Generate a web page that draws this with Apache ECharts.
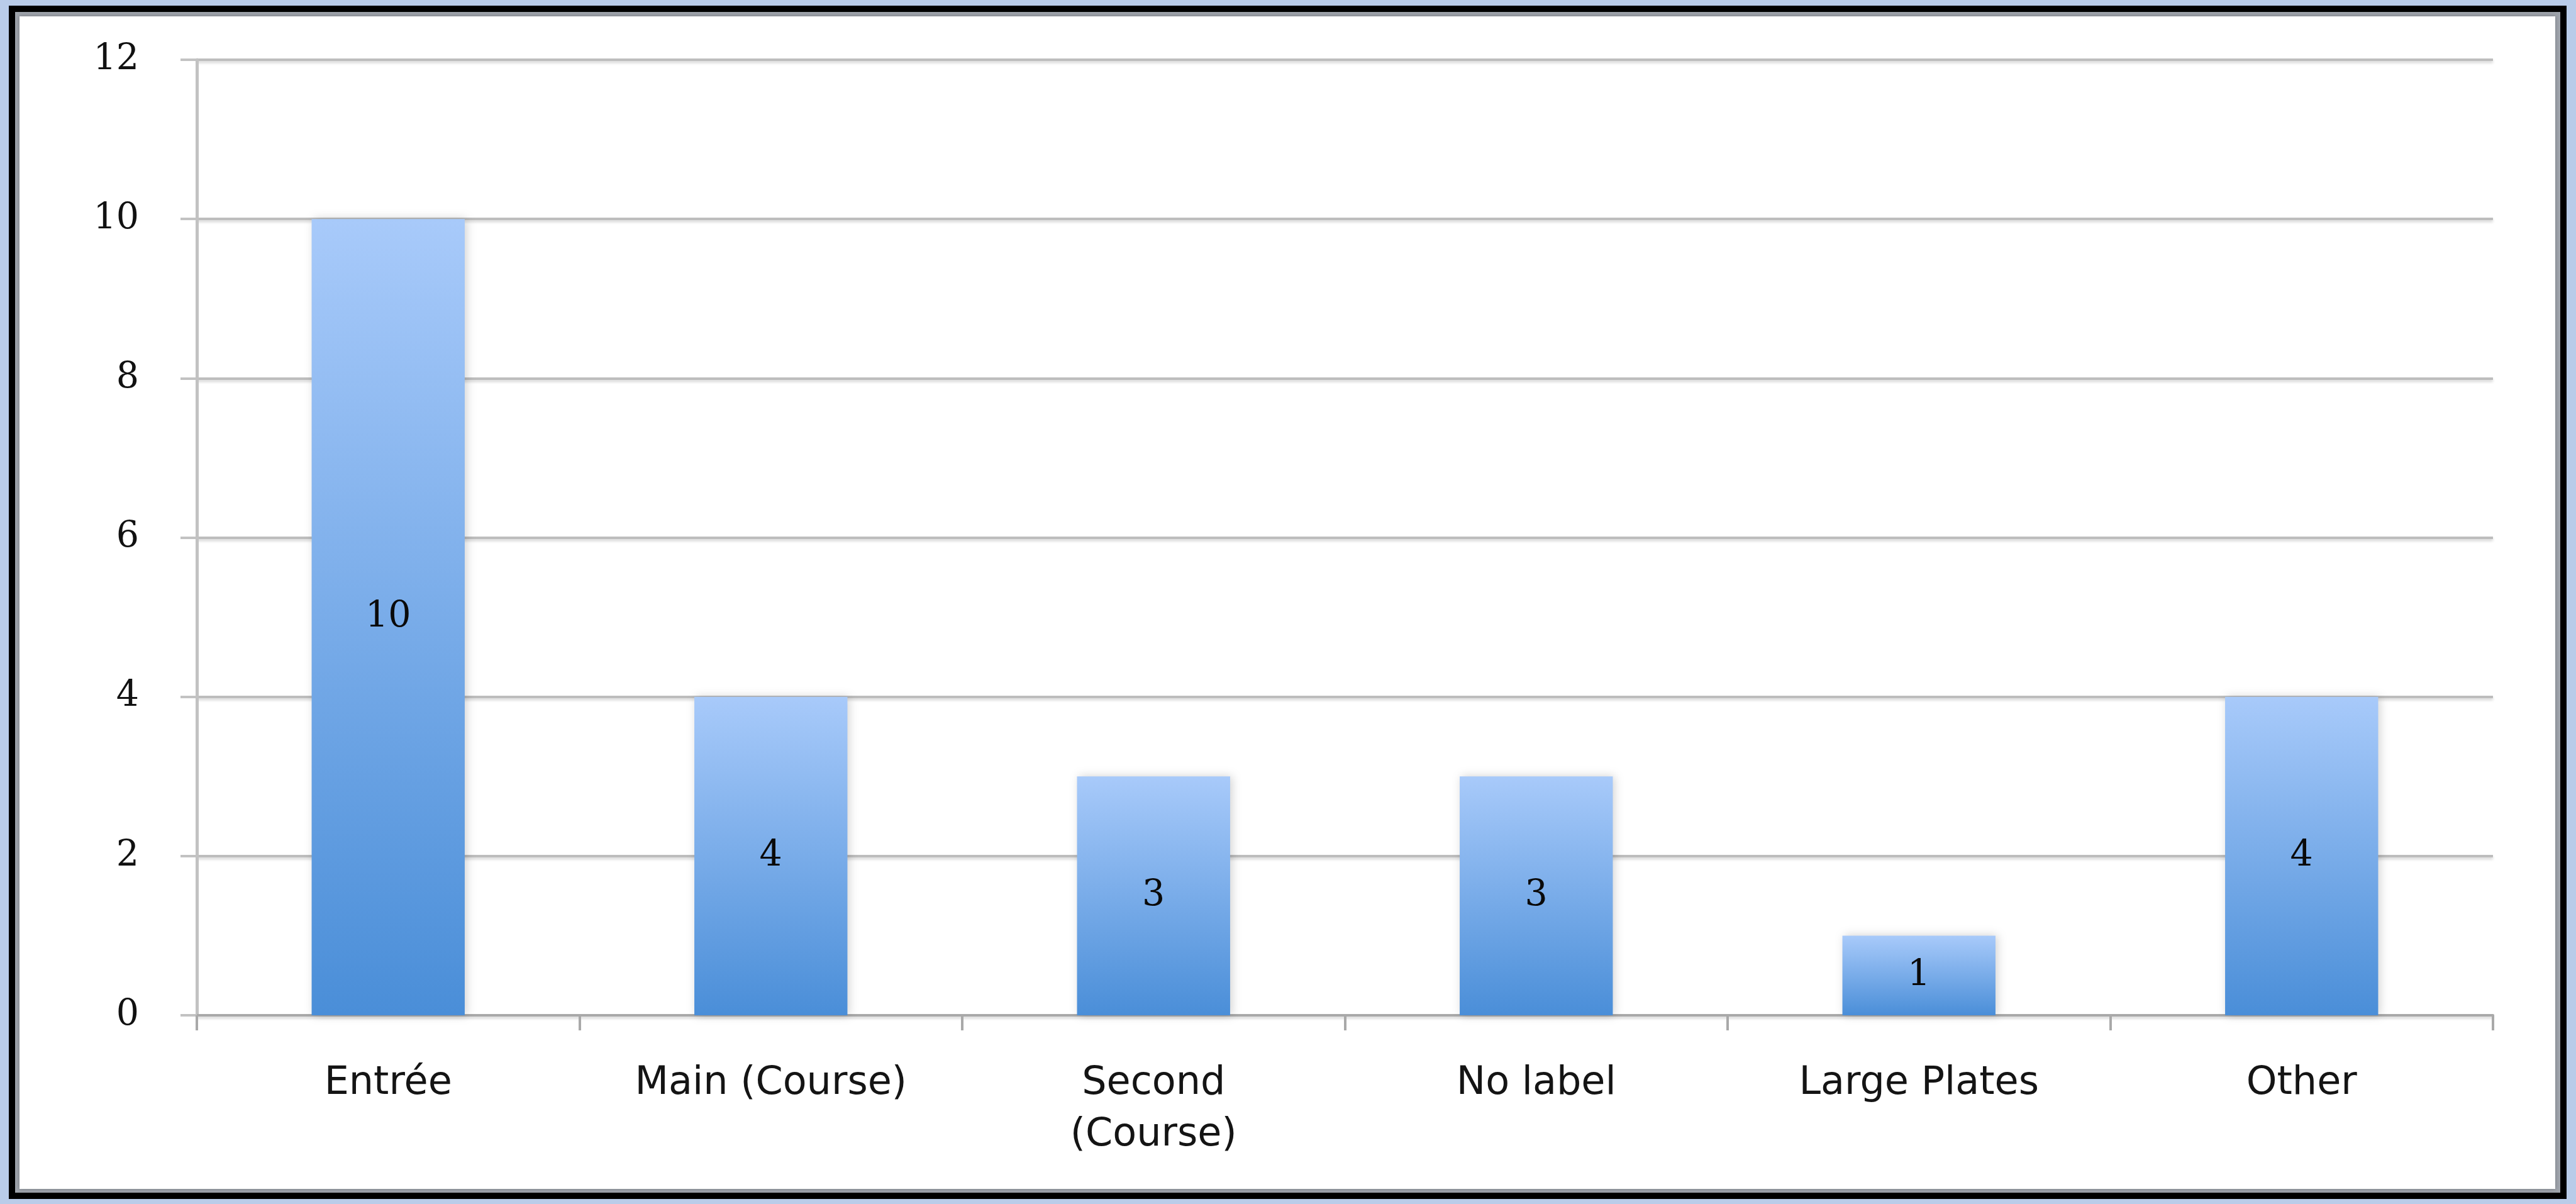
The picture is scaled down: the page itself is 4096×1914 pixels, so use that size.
<!DOCTYPE html>
<html>
<head>
<meta charset="utf-8">
<script src="https://cdn.jsdelivr.net/npm/echarts@6/dist/echarts.min.js"></script>
<style>
html,body{margin:0;padding:0;background:#b9cce9;}
#chart{width:4096px;height:1914px;}
</style>
</head>
<body>
<div id="chart"></div>
<script>
const categories = ['Entrée', 'Main (Course)', 'Second\n(Course)', 'No label', 'Large Plates', 'Other'];
const values = [10, 4, 3, 3, 1, 4];
const yMin = 0, yMax = 12, yInterval = 2;

const chart = echarts.init(document.getElementById('chart'), null, {renderer: 'canvas'});
const W = 4096, H = 1914;
chart.setOption({
  backgroundColor: '#b9cce9',
  animation: false,
  graphic: [
    {type: 'rect', z: -10, silent: true, shape: {x: 14, y: 9, width: W - 14 - 15, height: H - 9 - 8}, style: {fill: '#000000'}},
    {type: 'rect', z: -9, silent: true, shape: {x: 24, y: 19, width: W - 24 - 25, height: H - 19 - 18}, style: {fill: '#9ea3ab'}},
    {type: 'rect', z: -8, silent: true, shape: {x: 31, y: 26, width: W - 31 - 33, height: H - 26 - 24}, style: {fill: '#ffffff', shadowColor: 'rgba(0,0,0,0.25)', shadowBlur: 6}}
  ],
  grid: {left: 313, right: 132, top: 95, bottom: 300, containLabel: false},
  xAxis: {
    type: 'category',
    data: categories,
    boundaryGap: true,
    axisLine: {show: true, lineStyle: {color: '#a9a9a9', width: 4}},
    axisTick: {show: true, alignWithLabel: false, length: 24, lineStyle: {color: '#a9a9a9', width: 4}},
    axisLabel: {
      interval: 0, margin: 68,
      fontFamily: 'DejaVu Sans', fontSize: 62, color: '#141414', lineHeight: 82
    }
  },
  yAxis: {
    type: 'value',
    min: yMin, max: yMax, interval: yInterval,
    axisLine: {show: true, lineStyle: {color: '#c2c2c2', width: 5}},
    axisTick: {show: true, length: 26, lineStyle: {color: '#c2c2c2', width: 4}},
    splitLine: {show: true, lineStyle: {color: '#bdbdbd', width: 4, shadowColor: 'rgba(0,0,0,0.18)', shadowBlur: 4, shadowOffsetY: 3}},
    axisLabel: {margin: 92, fontFamily: 'DejaVu Serif', fontSize: 57, color: '#111111'}
  },
  series: [{
    type: 'bar',
    data: values,
    barWidth: '40%',
    itemStyle: {
      color: new echarts.graphic.LinearGradient(0, 0, 0, 1, [
        {offset: 0, color: '#a8cafa'},
        {offset: 1, color: '#4a8ed8'}
      ]),
      shadowColor: 'rgba(0,0,0,0.18)', shadowBlur: 14, shadowOffsetX: 3
    },
    label: {show: true, position: 'inside', fontFamily: 'DejaVu Serif', fontSize: 57, color: '#0a0a0a'}
  }]
});
</script>
</body>
</html>
